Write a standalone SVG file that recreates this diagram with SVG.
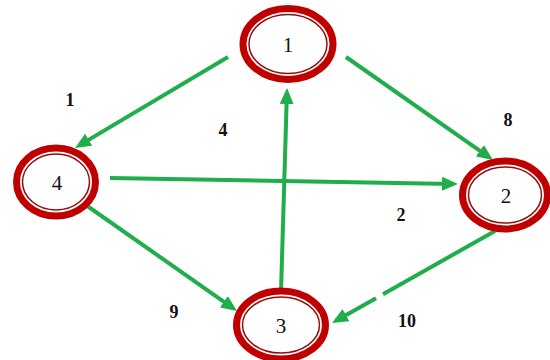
<svg xmlns="http://www.w3.org/2000/svg" width="550" height="360" viewBox="0 0 550 360">
<style>
.outer{fill:#fff;stroke:#c00000;stroke-width:7}
.inner{fill:none;stroke:#9a0a0a;stroke-width:1.5}
.nl{font-family:"Liberation Serif",serif;font-size:21px;fill:#111;text-anchor:middle}
.el{font-family:"Liberation Serif",serif;font-size:18px;font-weight:bold;fill:#111;text-anchor:middle}
.e{stroke:#1fae4b;stroke-width:4;fill:none}
</style>
<defs>
<marker id="ah" viewBox="0 0 16 14" markerWidth="16" markerHeight="14" refX="11" refY="7" orient="auto" markerUnits="userSpaceOnUse">
<path d="M0,0 L16,7 L0,14 z" fill="#1fae4b"/>
</marker>
</defs>
<rect width="550" height="360" fill="#fff"/>
<g id="connectors">
<line class="e" x1="228" y1="57" x2="79.3" y2="145.4" marker-end="url(#ah)"/>
<line class="e" x1="346" y1="57" x2="488.9" y2="157.1" marker-end="url(#ah)"/>
<line class="e" x1="110" y1="178" x2="453" y2="183.9" marker-end="url(#ah)"/>
<line class="e" x1="281" y1="292" x2="286.9" y2="93" marker-end="url(#ah)"/>
<line class="e" x1="83" y1="203" x2="232.9" y2="308.1" marker-end="url(#ah)"/>
<line class="e" x1="495" y1="231" x2="383" y2="294.2"/>
<line class="e" x1="376" y1="298.2" x2="336.4" y2="320.5" marker-end="url(#ah)"/>
</g>
<g id="node1">
<ellipse class="outer" cx="288" cy="44" rx="45" ry="35.5"/>
<ellipse class="inner" cx="288" cy="44" rx="39" ry="29.5"/>
<text class="nl" x="288" y="52">1</text>
</g>
<g id="node4">
<ellipse class="outer" cx="56" cy="182" rx="39.5" ry="34"/>
<ellipse class="inner" cx="56" cy="182" rx="33.5" ry="28"/>
<text class="nl" x="57" y="190">4</text>
</g>
<g id="node2">
<ellipse class="outer" cx="505" cy="195" rx="42.5" ry="34"/>
<ellipse class="inner" cx="505" cy="195" rx="36.5" ry="28"/>
<text class="nl" x="506" y="203">2</text>
</g>
<g id="node3">
<ellipse class="outer" cx="281" cy="325" rx="44.5" ry="34"/>
<ellipse class="inner" cx="281" cy="325" rx="38.5" ry="28"/>
<text class="nl" x="281" y="333">3</text>
</g>
<g id="labels">
<text class="el" x="70" y="106">1</text>
<text class="el" x="223" y="136">4</text>
<text class="el" x="508" y="126">8</text>
<text class="el" x="401" y="221">2</text>
<text class="el" x="174" y="318">9</text>
<text class="el" x="407" y="327">10</text>
</g>
</svg>
